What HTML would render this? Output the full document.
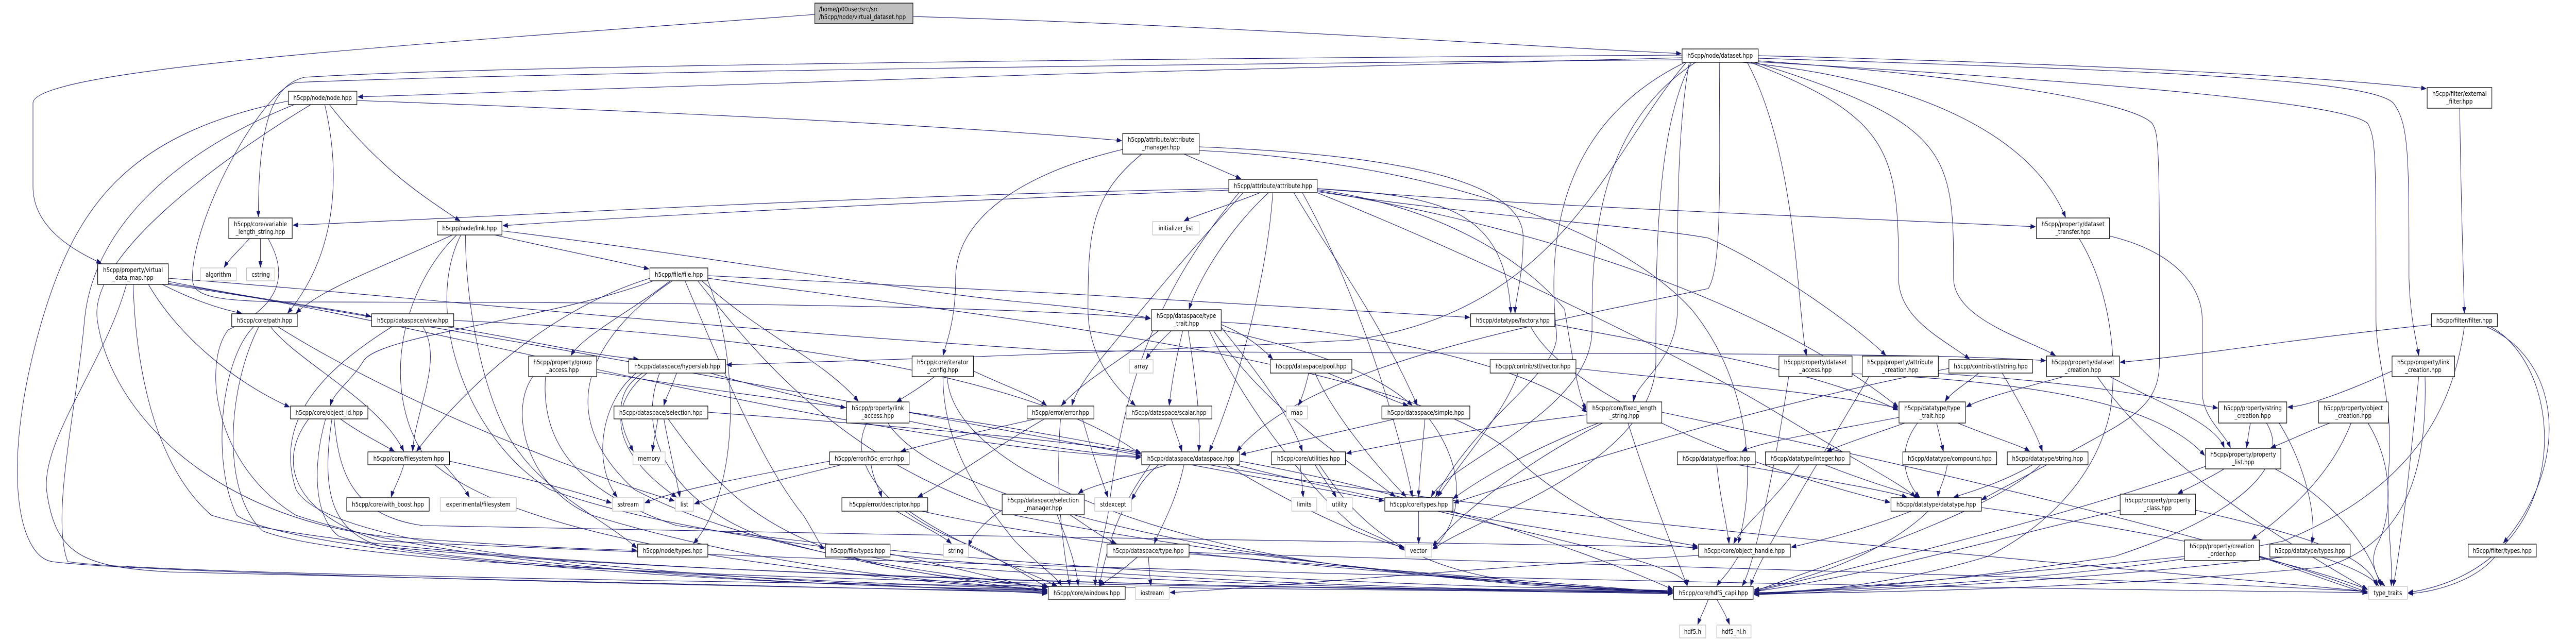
<!DOCTYPE html>
<html><head><meta charset="utf-8"><style>
html,body{margin:0;padding:0;width:100%;height:100%;overflow:hidden;background:#fff;}
svg{position:absolute;left:0;top:0;width:100vw;height:100vh;display:block;}
.n{fill:#fff;stroke:#000;stroke-width:1.3;}
.e{fill:#fff;stroke:#bfbfbf;stroke-width:1.3;}
.r{fill:#bfbfbf;stroke:#000;stroke-width:1.3;}
text{font-family:"DejaVu Sans","Liberation Sans",sans-serif;font-size:12.6px;fill:#000;text-anchor:middle;}
text.l{text-anchor:start;}
.ed path{fill:none;stroke:#191970;stroke-width:1.1;}
</style></head><body>
<svg xmlns="http://www.w3.org/2000/svg" viewBox="0 0 6092 1244" preserveAspectRatio="none">
<defs><marker id="a" markerWidth="12" markerHeight="9" refX="12" refY="4.5" orient="auto" markerUnits="userSpaceOnUse"><path d="M0,0 L12,4.5 L0,9 z" fill="#191970" stroke="#191970" stroke-width="0.6"/></marker></defs>
<rect width="6092" height="1244" fill="#fff"/>
<g class="ed" marker-end="url(#a)">
<path d="M2159,32 C2900,50 3500,85 3976,104"/>
<path d="M1927,28 C1100,80 78,130 78,200 L78,362 C78,440 170,485 240,511"/>
<path d="M3978,112 C3000,130 1800,160 846,188"/>
<path d="M3978,107 C3000,112 1200,125 720,150 C640,165 611,250 611,421"/>
<path d="M3978,116 C3000,122 1300,140 700,160 C620,175 455,420 455,540 C455,575 500,585 700,586 C1500,587 2300,590 2721,618"/>
<path d="M4120,121 C4500,150 4800,250 4885,422"/>
<path d="M4132,121 C4250,300 4250,600 4272,690"/>
<path d="M4140,121 C4480,230 4490,300 4490,540 C4490,620 4600,660 4658,697"/>
<path d="M4150,121 C4620,240 4620,300 4620,540 C4620,620 4800,660 4861,690"/>
<path d="M4158,108 C5000,125 5500,150 5738,172"/>
<path d="M4158,113 C5000,135 5600,150 5660,200 C5697,240 5697,300 5697,540 C5700,620 5715,660 5720,690"/>
<path d="M4158,118 C4700,150 5050,200 5090,240 C5107,260 5107,300 5107,700 C5107,760 5080,790 5000,830 C4850,900 4750,940 4686,970"/>
<path d="M4158,120 C5000,160 5550,200 5600,240 C5619,270 5619,300 5619,620 C5619,700 5660,780 5650,900 C5640,1000 5660,1080 5655,1137"/>
<path d="M4989,458 C5150,490 5208,560 5208,620 L5208,760 C5208,810 5260,840 5275,869"/>
<path d="M4917,463 C4990,560 5010,700 4990,800 C4950,950 4800,1040 4700,1080 C4500,1130 4300,1148 4148,1154"/>
<path d="M2836,285 C3300,300 3602,350 3602,460 C3602,540 3583,580 3583,608"/>
<path d="M3115,366 C3400,380 3560,400 3573,608"/>
<path d="M1674,535 C2200,555 3000,590 3476,616"/>
<path d="M4066,121 C4068,400 4069,520 4040,560 C3700,620 3100,700 2925,876"/>
<path d="M3995,121 C3967,250 3967,400 3967,600 C3967,700 3870,740 3863,779"/>
<path d="M4010,121 C3765,250 3765,500 3765,640 C3765,800 3420,900 3385,964"/>
<path d="M4000,121 C3916,250 3916,500 3916,700 C3916,900 3500,1000 3388,1066"/>
<path d="M3985,121 C3664,250 3664,500 3680,640 C3700,720 3500,800 3395,964"/>
<path d="M3990,119 C3800,300 3700,600 3200,660 C2500,690 2000,700 1718,708"/>
<path d="M398,540 C900,570 1700,640 2500,680 C3500,690 4500,680 4838,700"/>
<path d="M844,195 C1500,215 2200,240 2653,273"/>
<path d="M779,203 C900,330 1000,380 1088,429"/>
<path d="M768,203 C810,350 790,500 680,608"/>
<path d="M735,203 C500,320 210,500 230,620 C260,800 500,1000 900,1040 C1200,1060 1400,1066 1506,1068"/>
<path d="M682,196 C300,260 180,400 100,620 C0,900 40,1080 124,1090 C300,1110 1500,1135 2477,1148"/>
<path d="M696,203 C400,300 220,450 200,620 C180,800 120,1000 160,1090 C400,1120 2500,1140 3956,1150"/>
<path d="M384,552 C450,580 520,600 572,608"/>
<path d="M398,546 C600,580 800,600 877,614"/>
<path d="M351,552 C420,650 550,740 685,790"/>
<path d="M299,552 C250,700 100,850 110,950 C130,1080 200,1100 400,1110 C1200,1130 2000,1145 2477,1150"/>
<path d="M315,552 C320,700 360,900 500,1000 C900,1100 2500,1140 3956,1148"/>
<path d="M398,550 C1000,620 2000,860 2698,888"/>
<path d="M398,552 C1200,650 2800,900 3273,972"/>
<path d="M590,463 C560,490 540,505 530,519"/>
<path d="M616,463 L616,519"/>
<path d="M634,463 C680,530 670,590 540,640 C480,700 500,900 700,1000 C1100,1110 2000,1140 2477,1146"/>
<path d="M657,634 C900,760 1300,900 1595,972"/>
<path d="M640,634 C700,700 900,780 955,876"/>
<path d="M600,634 C520,700 500,900 560,1000 C700,1080 1800,1140 2477,1144"/>
<path d="M612,634 C540,750 520,950 620,1030 C900,1120 2600,1140 3956,1146"/>
<path d="M1056,634 C1250,660 1400,690 1510,697"/>
<path d="M1000,634 C1050,700 980,800 976,876"/>
<path d="M1073,622 C1600,640 2400,700 2698,882"/>
<path d="M927,634 C800,700 640,800 700,950 C800,1100 2000,1130 2477,1152"/>
<path d="M805,813 C850,840 900,860 933,876"/>
<path d="M770,813 C740,900 740,1000 800,1040 C1000,1100 2000,1130 2477,1144"/>
<path d="M785,813 C760,950 780,1030 900,1060 C1500,1110 2800,1140 3956,1152"/>
<path d="M790,813 C800,900 820,1000 1000,1020 C2000,1040 3500,1050 4015,1062"/>
<path d="M730,813 C650,900 700,1000 900,1050 C2500,1110 4500,1140 5599,1150"/>
<path d="M955,902 C945,930 930,950 925,965"/>
<path d="M1050,902 C1080,930 1100,950 1110,965"/>
<path d="M1063,895 C1200,920 1350,950 1446,976"/>
<path d="M1170,456 C1350,490 1450,505 1535,522"/>
<path d="M1070,456 C900,520 760,560 700,608"/>
<path d="M1101,456 C1100,600 1150,800 1230,880 C1300,960 1450,1020 1506,1064"/>
<path d="M1080,456 C950,560 900,750 1000,880 C1200,1060 2000,1120 2477,1146"/>
<path d="M1187,448 C1700,500 2100,560 2400,585 C2600,600 2680,610 2721,618"/>
<path d="M1090,456 C1000,600 1100,850 1300,950 C1800,1100 3000,1140 3956,1150"/>
<path d="M1585,545 C1500,600 1380,650 1350,690"/>
<path d="M1537,540 C1300,600 1100,750 985,876"/>
<path d="M1545,545 C1300,620 900,650 860,700 C830,740 790,760 781,787"/>
<path d="M1620,545 C1700,700 1800,900 1900,1000 C1930,1040 1940,1060 1950,1066"/>
<path d="M1590,545 C1400,650 1300,800 1500,950 C1800,1080 2300,1120 2477,1140"/>
<path d="M1650,545 C1800,700 2000,900 2400,1000 C3000,1100 3700,1140 3956,1148"/>
<path d="M1674,540 C2200,600 3400,700 3600,900 C3800,1040 3950,1050 4015,1060"/>
<path d="M1660,545 C1800,650 1950,700 2030,779"/>
<path d="M1674,545 C1750,700 1750,950 1640,1055"/>
<path d="M1411,722 C1700,760 1900,780 2000,791"/>
<path d="M1260,731 C1200,800 1250,950 1400,1000 C1800,1100 2200,1130 2477,1144"/>
<path d="M1290,731 C1280,850 1350,950 1600,1020 C2500,1120 3500,1140 3956,1146"/>
<path d="M1600,724 C1590,750 1575,770 1570,787"/>
<path d="M1520,724 C1450,760 1460,820 1498,876"/>
<path d="M1505,724 C1420,780 1400,900 1460,965"/>
<path d="M1530,724 C1430,790 1450,880 1600,965"/>
<path d="M1680,724 C2000,800 2500,880 2698,886"/>
<path d="M1560,724 C1500,850 1600,980 1800,1040 C2100,1110 2300,1130 2477,1138"/>
<path d="M1556,813 C1550,840 1545,860 1543,876"/>
<path d="M1570,813 C1585,880 1600,930 1608,965"/>
<path d="M1580,813 C1700,950 1800,1040 2100,1100 C2300,1130 2400,1140 2477,1150"/>
<path d="M1674,800 C2000,820 2500,850 2698,880"/>
<path d="M2150,800 C2400,830 2600,860 2698,878"/>
<path d="M2050,821 C2000,900 2100,1000 2300,1060 C2400,1100 2450,1130 2480,1140"/>
<path d="M2100,821 C2200,950 2700,1050 3200,1100 C3600,1140 3800,1146 3956,1150"/>
<path d="M2060,902 C2065,930 2080,950 2085,965"/>
<path d="M1962,895 C1800,920 1600,950 1525,976"/>
<path d="M1990,902 C1850,930 1700,960 1642,978"/>
<path d="M2450,813 C2300,840 2200,860 2130,876"/>
<path d="M2560,813 C2590,900 2610,940 2620,965"/>
<path d="M2470,813 C2350,870 2250,930 2170,965"/>
<path d="M2508,813 C2500,900 2500,1000 2530,1137"/>
<path d="M2120,992 C2180,1020 2230,1040 2250,1055"/>
<path d="M2150,992 C2250,1050 2400,1100 2500,1137"/>
<path d="M2180,992 C2500,1050 3000,1100 3956,1150"/>
<path d="M2105,1075 C2250,1100 2400,1130 2477,1148"/>
<path d="M2060,1081 C2300,1120 3300,1145 3956,1152"/>
<path d="M2800,299 C2860,320 2900,335 2935,347"/>
<path d="M2655,290 C2400,340 2260,430 2260,540 C2260,620 2240,660 2230,690"/>
<path d="M2700,299 C2580,380 2573,450 2573,600 C2573,700 2650,760 2685,787"/>
<path d="M2836,292 C3300,310 3800,420 4000,600 C4150,750 4150,950 4110,1055"/>
<path d="M2980,374 C2900,400 2820,420 2800,429"/>
<path d="M3000,374 C2900,450 2830,550 2812,600"/>
<path d="M2906,366 C2000,380 1200,420 693,437"/>
<path d="M2906,369 C2200,390 1500,420 1189,438"/>
<path d="M3010,374 C3000,500 2950,700 2860,876"/>
<path d="M3115,366 C3600,400 4300,420 4814,440"/>
<path d="M3115,372 C3500,420 3900,440 4040,462 C4200,520 4400,640 4460,690"/>
<path d="M3060,374 C3150,500 3250,600 3352,787"/>
<path d="M3115,368 C3400,400 3600,500 3700,600 C3720,700 3730,760 3751,795"/>
<path d="M3080,374 C3200,550 3300,800 3340,964"/>
<path d="M3115,374 C3500,500 4000,700 4200,800 C4400,900 4500,940 4530,965"/>
<path d="M2940,374 C2800,500 2700,600 2600,700 C2560,740 2540,770 2535,787"/>
<path d="M2930,374 C2700,600 2650,800 2620,1000 C2600,1080 2590,1110 2590,1137"/>
<path d="M3115,370 C3700,450 4200,600 4489,790"/>
<path d="M2770,642 C2740,665 2720,685 2710,697"/>
<path d="M2797,642 C2780,700 2770,750 2765,787"/>
<path d="M2810,642 C2830,750 2840,820 2835,876"/>
<path d="M2740,642 C2650,700 2560,740 2510,787"/>
<path d="M2888,630 C2950,650 2990,680 3010,697"/>
<path d="M2888,640 C3100,680 3250,720 3340,787"/>
<path d="M2888,625 C3200,640 3600,700 3753,800"/>
<path d="M2860,642 C2950,800 3100,950 3200,1020 C3280,1050 3310,1060 3322,1068"/>
<path d="M2870,642 C3000,800 3200,900 3300,964"/>
<path d="M2888,635 C2950,700 3050,800 3080,876"/>
<path d="M2210,731 C2180,750 2140,770 2120,780"/>
<path d="M2302,720 C2380,750 2450,770 2475,787"/>
<path d="M2230,731 C2230,850 2300,950 2400,1050 C2460,1100 2500,1120 2510,1137"/>
<path d="M2240,731 C2250,900 2700,1050 3200,1100 C3600,1140 3900,1146 3956,1146"/>
<path d="M3095,724 C3085,760 3075,780 3070,787"/>
<path d="M3140,724 C3250,760 3300,780 3330,787"/>
<path d="M3110,724 C3150,800 3250,900 3325,964"/>
<path d="M2770,813 C2780,840 2790,860 2795,876"/>
<path d="M2760,902 C2650,930 2570,945 2550,958"/>
<path d="M2800,902 C2780,980 2740,1030 2730,1055"/>
<path d="M2740,902 C2700,930 2690,950 2676,970"/>
<path d="M2720,902 C2650,980 2620,1050 2600,1137"/>
<path d="M2932,895 C3300,950 3700,1050 3956,1144"/>
<path d="M2920,902 C3300,980 3700,1040 4015,1064"/>
<path d="M2860,902 C3500,1000 5000,1100 5599,1148"/>
<path d="M2900,902 C3100,1000 3250,1050 3321,1062"/>
<path d="M3075,902 L3082,965"/>
<path d="M3110,902 C3130,930 3150,950 3160,965"/>
<path d="M3120,902 C3200,1000 3300,1100 3600,1130 C3800,1145 3900,1148 3956,1152"/>
<path d="M2530,999 C2570,1020 2600,1040 2640,1055"/>
<path d="M2500,999 C2530,1060 2545,1100 2550,1137"/>
<path d="M2370,990 C2330,1010 2300,1040 2290,1060"/>
<path d="M2690,1081 C2650,1110 2620,1125 2600,1137"/>
<path d="M2716,1081 C2718,1110 2720,1125 2722,1137"/>
<path d="M2812,1075 C3200,1100 3700,1135 3956,1150"/>
<path d="M2812,1072 C3500,1090 5000,1120 5599,1148"/>
<path d="M3677,630 C4000,680 4300,720 4489,796"/>
<path d="M3620,634 C3700,760 4100,900 4470,975"/>
<path d="M3370,813 C3360,900 3355,940 3355,964"/>
<path d="M3380,813 C3460,900 3470,1000 3388,1066"/>
<path d="M3300,813 C3100,850 3000,870 2934,882"/>
<path d="M3590,724 C3560,800 3450,900 3400,964"/>
<path d="M3727,715 C4000,740 4300,760 4489,792"/>
<path d="M3753,805 C3500,830 3300,860 3184,880"/>
<path d="M3780,821 C3600,880 3500,930 3436,968"/>
<path d="M3790,821 C3600,900 3450,1000 3388,1060"/>
<path d="M3850,821 C3900,950 3950,1050 3990,1137"/>
<path d="M3930,800 C4500,900 5300,1050 5599,1150"/>
<path d="M3355,992 L3355,1055"/>
<path d="M3400,992 C3700,1050 3990,1100 3990,1137"/>
<path d="M4110,902 C4300,930 4450,950 4510,965"/>
<path d="M4060,902 C4070,980 4085,1020 4089,1055"/>
<path d="M4315,902 C4400,930 4480,950 4540,965"/>
<path d="M4255,902 C4200,970 4120,1020 4100,1055"/>
<path d="M4605,902 C4600,930 4585,950 4583,965"/>
<path d="M4807,902 C4750,930 4680,950 4620,965"/>
<path d="M4826,902 C4700,1000 4300,1100 4148,1148"/>
<path d="M4491,810 C4300,840 4150,860 4120,876"/>
<path d="M4505,821 C4420,845 4350,865 4320,876"/>
<path d="M4580,821 L4596,876"/>
<path d="M4630,821 C4700,845 4780,865 4800,876"/>
<path d="M4535,821 C4480,880 4510,940 4540,965"/>
<path d="M4520,992 C4400,1030 4300,1050 4236,1062"/>
<path d="M4560,992 C4450,1080 4250,1130 4148,1145"/>
<path d="M4686,985 C5000,1020 5400,1080 5599,1144"/>
<path d="M4110,1081 C4090,1110 4070,1125 4060,1137"/>
<path d="M4017,1078 C3500,1100 3000,1140 2767,1150"/>
<path d="M4040,1163 C4030,1185 4020,1200 4015,1212"/>
<path d="M4060,1163 C4075,1185 4085,1200 4090,1212"/>
<path d="M4380,725 C4800,740 5100,780 5214,884"/>
<path d="M4230,731 C4200,900 4148,1100 4120,1137"/>
<path d="M4584,725 C4900,740 5100,770 5245,792"/>
<path d="M4420,731 C4300,900 4160,1080 4140,1137"/>
<path d="M4680,724 C4640,750 4610,765 4600,779"/>
<path d="M4735,724 C4790,800 4820,850 4830,876"/>
<path d="M4609,715 C4200,780 3800,880 3438,976"/>
<path d="M4880,731 C4750,760 4680,775 4650,790"/>
<path d="M4990,731 C5100,780 5240,820 5260,869"/>
<path d="M4960,731 C5100,900 5400,1050 5599,1144"/>
<path d="M5817,210 C5820,400 5825,500 5828,608"/>
<path d="M5750,630 C5400,660 5200,690 5014,703"/>
<path d="M5880,634 C6060,700 6080,900 5920,1054"/>
<path d="M5828,634 C5800,800 5700,950 5400,1050 C5000,1120 4500,1140 4148,1152"/>
<path d="M5890,634 C6080,720 6090,1100 5695,1150"/>
<path d="M5657,720 C5550,760 5450,790 5410,790"/>
<path d="M5735,731 C5740,900 5700,1050 5500,1100 C5000,1140 4500,1150 4148,1152"/>
<path d="M5720,731 C5700,900 5680,1050 5660,1137"/>
<path d="M5322,821 C5318,840 5315,855 5313,869"/>
<path d="M5390,821 C5450,900 5480,1000 5467,1055"/>
<path d="M5360,821 C5420,900 5300,1000 5000,1080 C4600,1130 4300,1150 4148,1150"/>
<path d="M5510,821 C5450,840 5400,860 5370,869"/>
<path d="M5560,821 C5500,950 5350,1030 5325,1047"/>
<path d="M5600,821 C5660,900 5660,1000 5620,1060 C5600,1100 5630,1130 5640,1137"/>
<path d="M5260,910 C5220,930 5180,945 5150,958"/>
<path d="M5380,910 C5500,960 5600,1050 5630,1137"/>
<path d="M5216,905 C4900,1000 4400,1100 4148,1148"/>
<path d="M5192,990 C5400,1030 5600,1070 5620,1137"/>
<path d="M5014,990 C4700,1050 4400,1120 4148,1148"/>
<path d="M5166,1080 C4800,1110 4400,1140 4148,1152"/>
<path d="M5343,1080 C5450,1110 5550,1140 5599,1152"/>
<path d="M5490,1081 C5560,1100 5610,1120 5625,1137"/>
<path d="M5400,1081 C5000,1120 4500,1145 4148,1154"/>
<path d="M5900,1081 C5850,1130 5750,1150 5695,1152"/>
</g>
<g>
<rect class="r" x="1927" y="6" width="232" height="40"/><text class="l" x="1937" y="22">/home/p00user/src/src</text><text class="l" x="1937" y="37">/h5cpp/node/virtual_dataset.hpp</text>
<rect class="n" x="682" y="177" width="162" height="26"/><text x="763" y="194">h5cpp/node/node.hpp</text>
<rect class="n" x="541" y="423" width="150" height="40"/><text x="616" y="439">h5cpp/core/variable</text><text x="616" y="454">_length_string.hpp</text>
<rect class="e" x="474" y="520" width="85" height="25"/><text x="516.5" y="537">algorithm</text>
<rect class="e" x="583" y="520" width="67" height="25"/><text x="616.5" y="537">cstring</text>
<rect class="n" x="231" y="512" width="167" height="40"/><text x="314.5" y="528">h5cpp/property/virtual</text><text x="314.5" y="543">_data_map.hpp</text>
<rect class="n" x="548" y="609" width="155" height="25"/><text x="625.5" y="626">h5cpp/core/path.hpp</text>
<rect class="n" x="879" y="609" width="194" height="25"/><text x="976" y="626">h5cpp/dataspace/view.hpp</text>
<rect class="n" x="687" y="788" width="183" height="25"/><text x="778.5" y="805">h5cpp/core/object_id.hpp</text>
<rect class="n" x="870" y="877" width="193" height="25"/><text x="966.5" y="894">h5cpp/core/filesystem.hpp</text>
<rect class="n" x="820" y="966" width="195" height="26"/><text x="917.5" y="983">h5cpp/core/with_boost.hpp</text>
<rect class="n" x="1034" y="430" width="153" height="26"/><text x="1110.5" y="447">h5cpp/node/link.hpp</text>
<rect class="n" x="1537" y="520" width="137" height="25"/><text x="1605.5" y="537">h5cpp/file/file.hpp</text>
<rect class="n" x="1250" y="691" width="161" height="40"/><text x="1330.5" y="707">h5cpp/property/group</text><text x="1330.5" y="722">_access.hpp</text>
<rect class="n" x="1487" y="698" width="229" height="26"/><text x="1601.5" y="715">h5cpp/dataspace/hyperslab.hpp</text>
<rect class="n" x="1452" y="788" width="222" height="25"/><text x="1563" y="805">h5cpp/dataspace/selection.hpp</text>
<rect class="e" x="1497" y="877" width="76" height="25"/><text x="1535" y="894">memory</text>
<rect class="e" x="1041" y="966" width="180" height="26"/><text x="1131" y="983">experimental/filesystem</text>
<rect class="e" x="1448" y="966" width="75" height="26"/><text x="1485.5" y="983">sstream</text>
<rect class="e" x="1597" y="966" width="43" height="26"/><text x="1618.5" y="983">list</text>
<rect class="n" x="1508" y="1056" width="166" height="25"/><text x="1591" y="1073">h5cpp/node/types.hpp</text>
<rect class="n" x="2002" y="780" width="148" height="41"/><text x="2076" y="796">h5cpp/property/link</text><text x="2076" y="811">_access.hpp</text>
<rect class="n" x="1962" y="877" width="188" height="25"/><text x="2056" y="894">h5cpp/error/h5c_error.hpp</text>
<rect class="n" x="1991" y="966" width="203" height="26"/><text x="2092.5" y="983">h5cpp/error/descriptor.hpp</text>
<rect class="n" x="1952" y="1056" width="153" height="25"/><text x="2028.5" y="1073">h5cpp/file/types.hpp</text>
<rect class="n" x="2655" y="259" width="181" height="40"/><text x="2745.5" y="275">h5cpp/attribute/attribute</text><text x="2745.5" y="290">_manager.hpp</text>
<rect class="n" x="2906" y="348" width="209" height="26"/><text x="3010.5" y="365">h5cpp/attribute/attribute.hpp</text>
<rect class="e" x="2726" y="430" width="110" height="26"/><text x="2781" y="447">initializer_list</text>
<rect class="n" x="2723" y="601" width="165" height="41"/><text x="2805.5" y="617">h5cpp/dataspace/type</text><text x="2805.5" y="632">_trait.hpp</text>
<rect class="n" x="2157" y="691" width="145" height="40"/><text x="2229.5" y="707">h5cpp/core/iterator</text><text x="2229.5" y="722">_config.hpp</text>
<rect class="e" x="2671" y="698" width="56" height="26"/><text x="2699" y="715">array</text>
<rect class="n" x="3004" y="698" width="193" height="26"/><text x="3100.5" y="715">h5cpp/dataspace/pool.hpp</text>
<rect class="n" x="2429" y="788" width="158" height="25"/><text x="2508" y="805">h5cpp/error/error.hpp</text>
<rect class="n" x="2663" y="788" width="203" height="25"/><text x="2764.5" y="805">h5cpp/dataspace/scalar.hpp</text>
<rect class="n" x="2700" y="877" width="232" height="25"/><text x="2816" y="894">h5cpp/dataspace/dataspace.hpp</text>
<rect class="n" x="3007" y="877" width="175" height="25"/><text x="3094.5" y="894">h5cpp/core/utilities.hpp</text>
<rect class="n" x="2370" y="959" width="194" height="40"/><text x="2467" y="975">h5cpp/dataspace/selection</text><text x="2467" y="990">_manager.hpp</text>
<rect class="e" x="2589" y="966" width="87" height="26"/><text x="2632.5" y="983">stdexcept</text>
<rect class="e" x="2231" y="1056" width="59" height="25"/><text x="2260.5" y="1073">string</text>
<rect class="n" x="2618" y="1056" width="194" height="25"/><text x="2715" y="1073">h5cpp/dataspace/type.hpp</text>
<rect class="n" x="2479" y="1138" width="182" height="25"/><text x="2570" y="1155">h5cpp/core/windows.hpp</text>
<rect class="e" x="2685" y="1138" width="80" height="25"/><text x="2725" y="1155">iostream</text>
<rect class="n" x="3978" y="95" width="180" height="26"/><text x="4068" y="112">h5cpp/node/dataset.hpp</text>
<rect class="n" x="3478" y="609" width="199" height="25"/><text x="3577.5" y="626">h5cpp/datatype/factory.hpp</text>
<rect class="e" x="3042" y="788" width="50" height="25"/><text x="3067" y="805">map</text>
<rect class="n" x="3268" y="788" width="208" height="25"/><text x="3372" y="805">h5cpp/dataspace/simple.hpp</text>
<rect class="n" x="3524" y="698" width="203" height="26"/><text x="3625.5" y="715">h5cpp/contrib/stl/vector.hpp</text>
<rect class="n" x="3753" y="780" width="177" height="41"/><text x="3841.5" y="796">h5cpp/core/fixed_length</text><text x="3841.5" y="811">_string.hpp</text>
<rect class="e" x="3055" y="966" width="59" height="26"/><text x="3084.5" y="983">limits</text>
<rect class="e" x="3138" y="966" width="60" height="26"/><text x="3168" y="983">utility</text>
<rect class="n" x="3275" y="966" width="161" height="26"/><text x="3355.5" y="983">h5cpp/core/types.hpp</text>
<rect class="e" x="3323" y="1056" width="63" height="25"/><text x="3354.5" y="1073">vector</text>
<rect class="n" x="3967" y="877" width="184" height="25"/><text x="4059" y="894">h5cpp/datatype/float.hpp</text>
<rect class="n" x="4017" y="1056" width="217" height="25"/><text x="4125.5" y="1073">h5cpp/core/object_handle.hpp</text>
<rect class="n" x="3958" y="1138" width="188" height="25"/><text x="4052" y="1155">h5cpp/core/hdf5_capi.hpp</text>
<rect class="e" x="3972" y="1213" width="62" height="25"/><text x="4003" y="1230">hdf5.h</text>
<rect class="e" x="4060" y="1213" width="81" height="25"/><text x="4100.5" y="1230">hdf5_hl.h</text>
<rect class="n" x="4816" y="423" width="173" height="40"/><text x="4902.5" y="439">h5cpp/property/dataset</text><text x="4902.5" y="454">_transfer.hpp</text>
<rect class="n" x="4207" y="691" width="173" height="40"/><text x="4293.5" y="707">h5cpp/property/dataset</text><text x="4293.5" y="722">_access.hpp</text>
<rect class="n" x="4404" y="691" width="180" height="40"/><text x="4494" y="707">h5cpp/property/attribute</text><text x="4494" y="722">_creation.hpp</text>
<rect class="n" x="4609" y="698" width="198" height="26"/><text x="4708" y="715">h5cpp/contrib/stl/string.hpp</text>
<rect class="n" x="4840" y="691" width="172" height="40"/><text x="4926" y="707">h5cpp/property/dataset</text><text x="4926" y="722">_creation.hpp</text>
<rect class="n" x="4491" y="780" width="157" height="41"/><text x="4569.5" y="796">h5cpp/datatype/type</text><text x="4569.5" y="811">_trait.hpp</text>
<rect class="n" x="4175" y="877" width="200" height="25"/><text x="4275" y="894">h5cpp/datatype/integer.hpp</text>
<rect class="n" x="4500" y="877" width="222" height="25"/><text x="4611" y="894">h5cpp/datatype/compound.hpp</text>
<rect class="n" x="4747" y="877" width="191" height="25"/><text x="4842.5" y="894">h5cpp/datatype/string.hpp</text>
<rect class="n" x="4472" y="966" width="214" height="26"/><text x="4579" y="983">h5cpp/datatype/datatype.hpp</text>
<rect class="n" x="5014" y="959" width="178" height="40"/><text x="5103" y="975">h5cpp/property/property</text><text x="5103" y="990">_class.hpp</text>
<rect class="n" x="5740" y="170" width="153" height="40"/><text x="5816.5" y="186">h5cpp/filter/external</text><text x="5816.5" y="201">_filter.hpp</text>
<rect class="n" x="5750" y="609" width="156" height="25"/><text x="5828" y="626">h5cpp/filter/filter.hpp</text>
<rect class="n" x="5657" y="691" width="148" height="40"/><text x="5731" y="707">h5cpp/property/link</text><text x="5731" y="722">_creation.hpp</text>
<rect class="n" x="5247" y="780" width="161" height="41"/><text x="5327.5" y="796">h5cpp/property/string</text><text x="5327.5" y="811">_creation.hpp</text>
<rect class="n" x="5483" y="780" width="165" height="41"/><text x="5565.5" y="796">h5cpp/property/object</text><text x="5565.5" y="811">_creation.hpp</text>
<rect class="n" x="5216" y="870" width="178" height="40"/><text x="5305" y="886">h5cpp/property/property</text><text x="5305" y="901">_list.hpp</text>
<rect class="n" x="5166" y="1048" width="177" height="40"/><text x="5254.5" y="1064">h5cpp/property/creation</text><text x="5254.5" y="1079">_order.hpp</text>
<rect class="n" x="5368" y="1056" width="190" height="25"/><text x="5463" y="1073">h5cpp/datatype/types.hpp</text>
<rect class="n" x="5837" y="1056" width="161" height="25"/><text x="5917.5" y="1073">h5cpp/filter/types.hpp</text>
<rect class="e" x="5601" y="1138" width="92" height="25"/><text x="5647" y="1155">type_traits</text>
</g>
</svg>
</body></html>
